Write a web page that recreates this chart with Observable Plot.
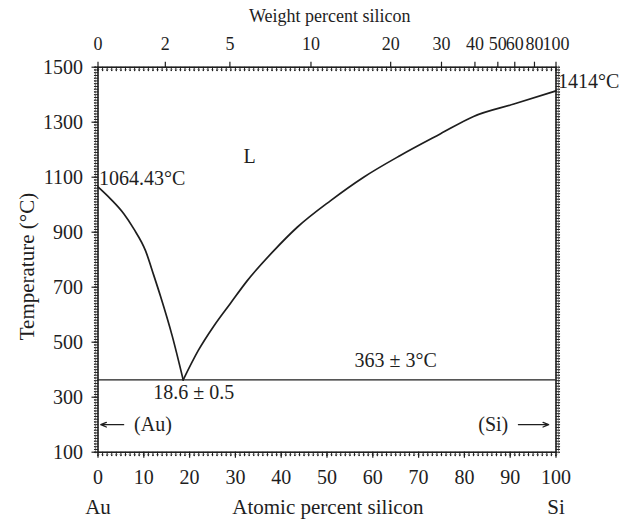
<!DOCTYPE html>
<html><head><meta charset="utf-8">
<script src="https://cdn.jsdelivr.net/npm/d3@7"></script>
<script src="https://cdn.jsdelivr.net/npm/@observablehq/plot@0.6"></script>
<style>body{margin:0;background:#fff} #chart svg{display:block}</style>
</head><body><div id="chart"></div>
<script>
// Au-Si phase diagram data (atomic percent Si vs temperature °C)
const auLiquidusAt = [0, 2.73, 5.63, 7.82, 10.37, 12.18, 13.65, 16.2, 18.6];
const auLiquidusT  = [1064.43, 1021, 967, 912, 833, 743, 667, 523, 363];
const siLiquidusAt = [18.6, 21.9, 25.3, 28.9, 32.6, 38.4, 43.5, 50.8, 58.0, 66.0, 74.8, 82.0, 90.8, 100];
const siLiquidusT  = [363, 470, 559, 641, 724, 833, 918, 1015, 1100, 1179, 1258, 1321, 1366, 1414];
const eutecticT = [363];
const atomicTicks = [0, 10, 20, 30, 40, 50, 60, 70, 80, 90, 100];
const tempTicks = [100, 300, 500, 700, 900, 1100, 1300, 1500];
const weightTickLabels = ["0", "2", "5", "10", "20", "30", "40", "50", "60", "80", "100"];
const weightTickAt = [0, 14.7, 28.8, 46.5, 63.9, 75.0, 82.3, 87.3, 91.0, 95.3, 100];

const auLiq = auLiquidusAt.map((x, i) => ({x, t: auLiquidusT[i]}));
const siLiq = siLiquidusAt.map((x, i) => ({x, t: siLiquidusT[i]}));
const weightTicks = weightTickAt.map((x, i) => ({x, label: weightTickLabels[i]}));
const minorX = d3.range(0, 101, 1);
const minorY = d3.range(100, 1501, 10);
const ink = "#1e1e1e";

const chart = Plot.plot({
  width: 639, height: 521,
  marginLeft: 97.5, marginRight: 83.5, marginTop: 66.7, marginBottom: 69.3,
  x: {domain: [0, 100]},
  y: {domain: [100, 1500]},
  style: {fontFamily: "'Liberation Serif', 'DejaVu Serif', serif", fontSize: "20px", color: ink, background: "#fff"},
  marks: [
    // minor ticks (pixel-length vectors anchored on the frame)
    Plot.vector(minorX, {x: d => d, y: 100, length: 3.5, rotate: 180, anchor: "start", stroke: ink, strokeWidth: 1}),
    Plot.vector(minorX, {x: d => d, y: 1500, length: 3.5, rotate: 180, anchor: "start", stroke: ink, strokeWidth: 1}),
    Plot.vector(minorY, {x: 0, y: d => d, length: 3.5, rotate: -90, anchor: "start", stroke: ink, strokeWidth: 1}),
    Plot.vector(minorY, {x: 100, y: d => d, length: 3.5, rotate: 90, anchor: "start", stroke: ink, strokeWidth: 1}),
    // major ticks with labels
    Plot.axisX(atomicTicks, {anchor: "bottom", tickSize: 6, tickPadding: 12, label: null, strokeWidth: 1.2, fontSize: 20, tickFormat: "d"}),
    Plot.axisY(tempTicks, {anchor: "left", tickSize: 6, tickPadding: 9, label: null, strokeWidth: 1.2, fontSize: 20, tickFormat: "d"}),
    Plot.axisX(weightTickAt, {anchor: "top", tickSize: 6, tickFormat: () => "", label: null, strokeWidth: 1.2}),
    Plot.text(weightTicks, {x: "x", y: 1500, text: "label", dy: -17, lineAnchor: "bottom", fontSize: 18, fill: ink}),
    Plot.frame({stroke: ink, strokeWidth: 1.6}),
    // eutectic
    Plot.ruleY(eutecticT, {stroke: ink, strokeWidth: 1.3}),
    // liquidus
    Plot.line(auLiq, {x: "x", y: "t", stroke: ink, strokeWidth: 1.7, curve: "monotone-x"}),
    Plot.line(siLiq, {x: "x", y: "t", stroke: ink, strokeWidth: 1.7, curve: "monotone-x"}),
    // arrows
    Plot.arrow([0], {x1: 5.6, x2: 0.6, y1: 200, y2: 200, stroke: ink, strokeWidth: 1.3, headLength: 7, headAngle: 45}),
    Plot.arrow([0], {x1: 91.8, x2: 98.4, y1: 200, y2: 200, stroke: ink, strokeWidth: 1.3, headLength: 7, headAngle: 45}),
    // annotations
    Plot.text(["(Au)"], {x: 12.0, y: 200, text: d => d, fill: ink}),
    Plot.text(["(Si)"], {x: 86.3, y: 200, text: d => d, fill: ink}),
    Plot.text(["L"], {x: 33.1, y: 1175, text: d => d, fill: ink}),
    Plot.text(["1064.43°C"], {x: 0, y: 1064.43, text: d => d, textAnchor: "start", dx: 1, dy: -8, fill: ink}),
    Plot.text(["1414°C"], {x: 100, y: 1414, text: d => d, textAnchor: "start", dx: 2, dy: -9, fill: ink}),
    Plot.text(["363 ± 3°C"], {x: 65.0, y: 363, text: d => d, dy: -19, fill: ink}),
    Plot.text(["18.6 ± 0.5"], {x: 18.6, y: 363, text: d => d, textAnchor: "start", dx: -30, dy: 13, fill: ink}),
    // axis titles
    Plot.text(["Weight percent silicon"], {x: 50.6, y: 1500, text: d => d, dy: -51, fontSize: 18, fill: ink}),
    Plot.text(["Au"], {x: 0, y: 100, text: d => d, dy: 55, fontSize: 21, fill: ink}),
    Plot.text(["Atomic percent silicon"], {x: 50.2, y: 100, text: d => d, dy: 55, fontSize: 21, fill: ink}),
    Plot.text(["Si"], {x: 100, y: 100, text: d => d, dy: 55, fontSize: 21, fill: ink}),
    Plot.text(["Temperature (°C)"], {x: 0, y: 775, text: d => d, rotate: -90, dx: -71, fontSize: 21, fill: ink})
  ]
});
document.getElementById("chart").appendChild(chart);
</script>
</body></html>
